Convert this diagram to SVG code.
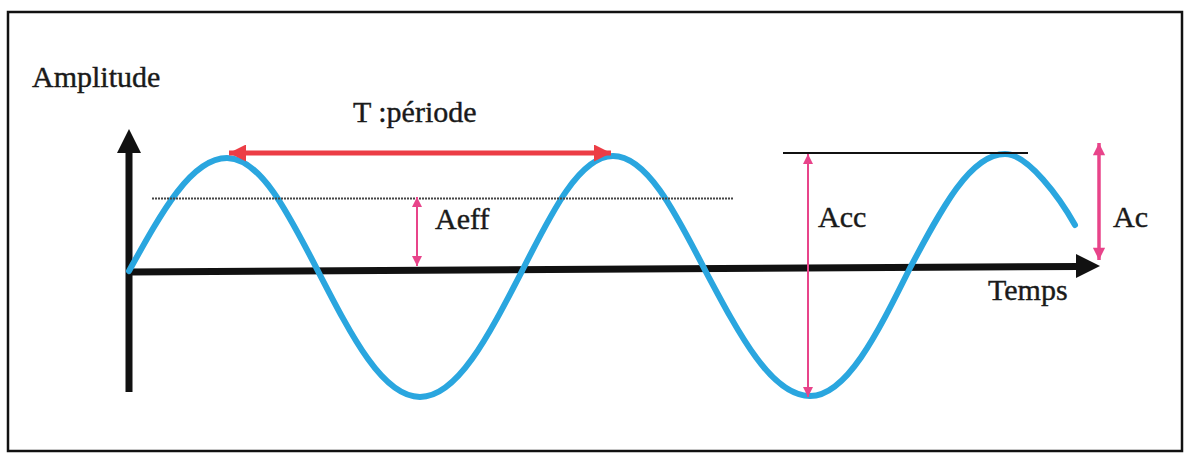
<svg xmlns="http://www.w3.org/2000/svg" width="1192" height="456" viewBox="0 0 1192 456">
<style>
.lbl{font-family:"Liberation Serif","Times New Roman",serif;font-size:30px;fill:#1a1a1a;stroke:#1a1a1a;stroke-width:0.4}
.axis{stroke:#111;stroke-width:7;fill:none}
.wave{stroke:#2aa6df;stroke-width:6;fill:none;stroke-linecap:round;stroke-linejoin:round}
.mag{stroke:#e8448a;fill:none}
</style>
<defs>
<marker id="magHead" viewBox="0 0 10 10" refX="10" refY="5" markerWidth="5" markerHeight="5" orient="auto-start-reverse" markerUnits="strokeWidth">
<path d="M0,0 L10,5 L0,10 z" fill="#e8448a"/>
</marker>
<marker id="magHeadBig" viewBox="0 0 10 10" refX="10" refY="5" markerWidth="4" markerHeight="3.5" orient="auto-start-reverse" markerUnits="strokeWidth">
<path d="M0,0 L10,5 L0,10 z" fill="#e8448a"/>
</marker>
<marker id="redHead" viewBox="0 0 10 10" refX="10" refY="5" markerWidth="3.8" markerHeight="3.4" orient="auto-start-reverse" markerUnits="strokeWidth">
<path d="M0,0 L10,5 L0,10 z" fill="#ec3d45"/>
</marker>
</defs>
<rect x="8" y="12" width="1174" height="439" fill="#fff" stroke="#111" stroke-width="2.5"/>

<g id="axes">
<line class="axis" x1="129" y1="392" x2="129" y2="150"/>
<path d="M129,129 L117,153 L141,153 z" fill="#111"/>
<line class="axis" x1="129" y1="272" x2="1080" y2="266.5"/>
<path d="M1100,266 L1076,254 L1076,278 z" fill="#111"/>
</g>

<g id="wave">
<path class="wave" d="M129,271 C161.8,211.7 191.4,158 227,158 C260.1,158 287.6,211.7 318,271 C352.1,337.2 382.9,397 420,397 C457.1,397 487.9,337.2 522,271 C552.4,210.6 579.9,156 613,156 C646.4,156 674.2,210.1 705,270 C740.1,336.2 771.8,396 810,396 C846.3,396 876.6,335.2 910,268 C941.8,208.1 970.5,154 1005,154 C1028,154 1060,198.3 1075,225"/>
</g>

<g id="connectors">
<line x1="152" y1="198.5" x2="733" y2="198.5" stroke="#444" stroke-width="1.8" stroke-dasharray="2 1"/>
<line x1="783" y1="153" x2="1028" y2="153" stroke="#111" stroke-width="2"/>
<line x1="229" y1="153" x2="611" y2="153" stroke="#ec3d45" stroke-width="5" marker-start="url(#redHead)" marker-end="url(#redHead)"/>
<line class="mag" x1="417" y1="197" x2="417" y2="266" stroke-width="2" marker-start="url(#magHead)" marker-end="url(#magHead)"/>
<line class="mag" x1="808" y1="154" x2="808" y2="397" stroke-width="2" marker-start="url(#magHead)" marker-end="url(#magHead)"/>
<line class="mag" x1="1099" y1="143" x2="1099" y2="260" stroke-width="3.5" marker-start="url(#magHeadBig)" marker-end="url(#magHeadBig)"/>
</g>

<g id="labels">
<text class="lbl" x="32" y="87">Amplitude</text>
<text class="lbl" x="353" y="122">T :période</text>
<text class="lbl" x="435" y="229">Aeff</text>
<text class="lbl" x="818" y="227">Acc</text>
<text class="lbl" x="1113" y="227">Ac</text>
<text class="lbl" x="988" y="300">Temps</text>
</g>
</svg>
